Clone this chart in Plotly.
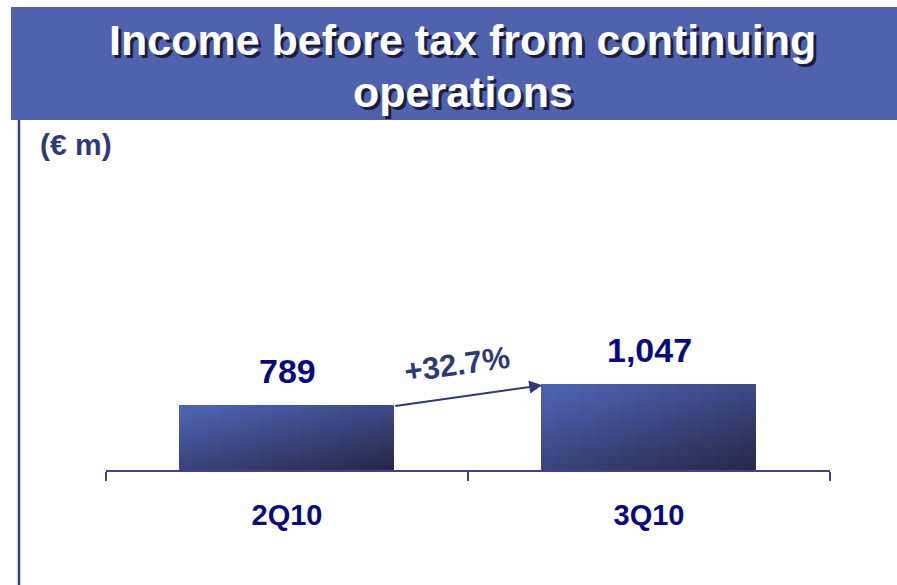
import plotly.graph_objects as go

categories = ["2Q10", "3Q10"]
values = [789, 1047]
value_labels = ["789", "1,047"]
title_lines = ["Income before tax from continuing", "operations"]
unit_text = "(€ m)"

NAVY = "#0a0a80"
AXIS = "#4a3a90"
C0 = (0x4e, 0x61, 0xb0)
C1 = (0x26, 0x29, 0x4a)

W = 0.59  # bar width (category units)
M, N = 16, 12  # gradient grid

def lerp(t):
    t = max(0.0, min(1.0, t))
    r, g, b = (int(round(a + (c - a) * t)) for a, c in zip(C0, C1))
    return f"rgb({r},{g},{b})"

fig = go.Figure()
for j in range(M):
    u = (j + 0.5) / M
    for i in range(N):
        s = 1 - (i + 0.5) / N  # 0 at top
        t = 0.5 * (u - 0.15) + 0.6 * s
        col = lerp(t)
        fig.add_trace(go.Bar(
            x=categories,
            y=[v / N for v in values],
            base=[v * i / N for v in values],
            offset=-W / 2 + j * W / M,
            width=W / M,
            marker=dict(color=col, line=dict(color=col, width=1)),
            showlegend=False,
            hoverinfo="skip",
        ))

ann = []
# value labels
for k, (c, v, lab) in enumerate(zip(categories, values, value_labels)):
    ann.append(dict(x=k, y=v, xref="x", yref="y", text=lab, showarrow=False,
                    yanchor="bottom", yshift=14,
                    font=dict(family="Arial, Liberation Sans", size=34, color=NAVY, weight="bold")))

# growth arrow from top of bar 1 to top of bar 2
ann.append(dict(x=1 - W / 2, y=values[1], ax=W / 2, ay=values[0],
                xref="x", yref="y", axref="x", ayref="y", text="",
                showarrow=True, arrowhead=2, arrowsize=1.3, arrowwidth=2,
                arrowcolor="#2e3a70", standoff=0, startstandoff=0))
growth = (values[1] / values[0] - 1) * 100
ann.append(dict(x=0.47, y=values[1] + 260, xref="x", yref="y",
                text=f"+{growth:.1f}%", showarrow=False, textangle=-8,
                font=dict(family="Arial, Liberation Sans", size=31, color="#2e3a72", weight="bold")))

# title (two lines)
for line, ypos in zip(title_lines, [1.2647, 1.1118]):
    ann.append(dict(x=0.493, y=ypos, xref="paper", yref="paper", text=line,
                    showarrow=False, xanchor="center", yanchor="middle",
                    font=dict(family="Arial, Liberation Sans", size=43, color="white", weight="bold",
                              shadow="3px 3px 0px #1c1c3c")))
# unit label
ann.append(dict(x=-0.094, y=0.956, xref="paper", yref="paper", text=unit_text,
                showarrow=False, xanchor="left", yanchor="middle",
                font=dict(family="Arial, Liberation Sans", size=30, color="#2e3a78", weight="bold")))

shapes = [
    dict(type="rect", xref="paper", yref="paper", x0=-0.1312, x1=1.12, y0=1.0294, y1=1.3618,
         fillcolor="#5061ae", line=dict(width=0), layer="below"),
    dict(type="line", xref="paper", yref="paper", x0=-0.1202, x1=-0.1202, y0=1.0294, y1=-0.40,
         line=dict(color="#3a3a9a", width=2.5)),
]

fig.update_layout(
    width=897, height=585,
    margin=dict(l=106, r=67, t=130, b=115),
    paper_bgcolor="white", plot_bgcolor="white",
    barmode="overlay", bargap=0,
    annotations=ann, shapes=shapes,
    xaxis=dict(type="category", range=[-0.5, 1.5], tickson="boundaries",
               ticks="outside", ticklen=9, tickwidth=2, tickcolor=AXIS,
               showline=True, linecolor=AXIS, linewidth=2, showgrid=False,
               zeroline=False, ticklabelstandoff=18,
               tickfont=dict(family="Arial, Liberation Sans", size=29, color=NAVY, weight="bold")),
    yaxis=dict(range=[0, 4200], visible=False),
)

fig.write_html("out.html", config={"displayModeBar": False},
               post_script="document.body.style.margin='0';")
